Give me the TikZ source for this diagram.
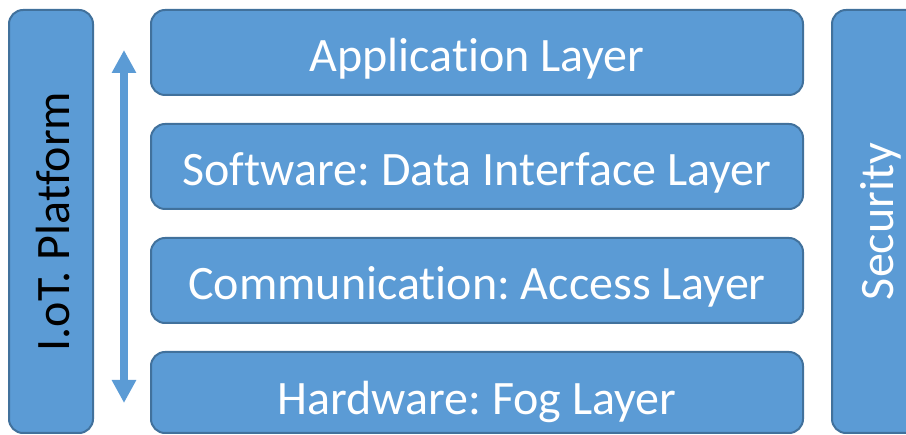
\documentclass[tikz,border=0pt]{standalone}
\usepackage{fontspec}
\setmainfont[RawFeature=-liga]{Carlito}
\usepackage{tikz}
\usetikzlibrary{arrows.meta}
\definecolor{layerblue}{HTML}{5B9BD5}
\definecolor{edgeblue}{HTML}{41719C}
\frenchspacing

\begin{document}
\begin{tikzpicture}[x=1pt,y=-1pt,
  layer/.style={rectangle,rounded corners=14pt,fill=layerblue,draw=edgeblue,line width=2pt,
    text=white,font=\fontsize{48}{50}\selectfont,minimum width=652pt,minimum height=85pt,inner sep=0pt,
    text height=40pt,text depth=1pt},
  side/.style={layer,minimum width=423pt,rotate=90}]
  \clip (0,0) rectangle (906,435);
  \node[layer] (app) at (477,52.5) {Application Layer};
  \node[layer] (soft) at (477,166.5) {Software: Data Interface Layer};
  \node[layer] (comm) at (477,280.5) {Communication: Access Layer};
  \node[layer,minimum height=81pt,text height=44pt,text depth=0pt] (hard) at (477,392.5) {Hardware: Fog Layer};
  \node[side,minimum height=84pt,text=black,text height=38pt,text depth=2pt] (iot) at (51,221.5) {I.oT. Platform};
  \node[side,minimum height=92pt,text height=36pt,text depth=6pt] (sec) at (878,221.5) {Security};
  \coordinate (up) at (124,50); \coordinate (down) at (124,403);
  \draw[layerblue,line width=8pt,{Triangle[width=23pt,length=23pt]}-{Triangle[width=23pt,length=23pt]}] (up) -- (down);
\end{tikzpicture}
\end{document}
